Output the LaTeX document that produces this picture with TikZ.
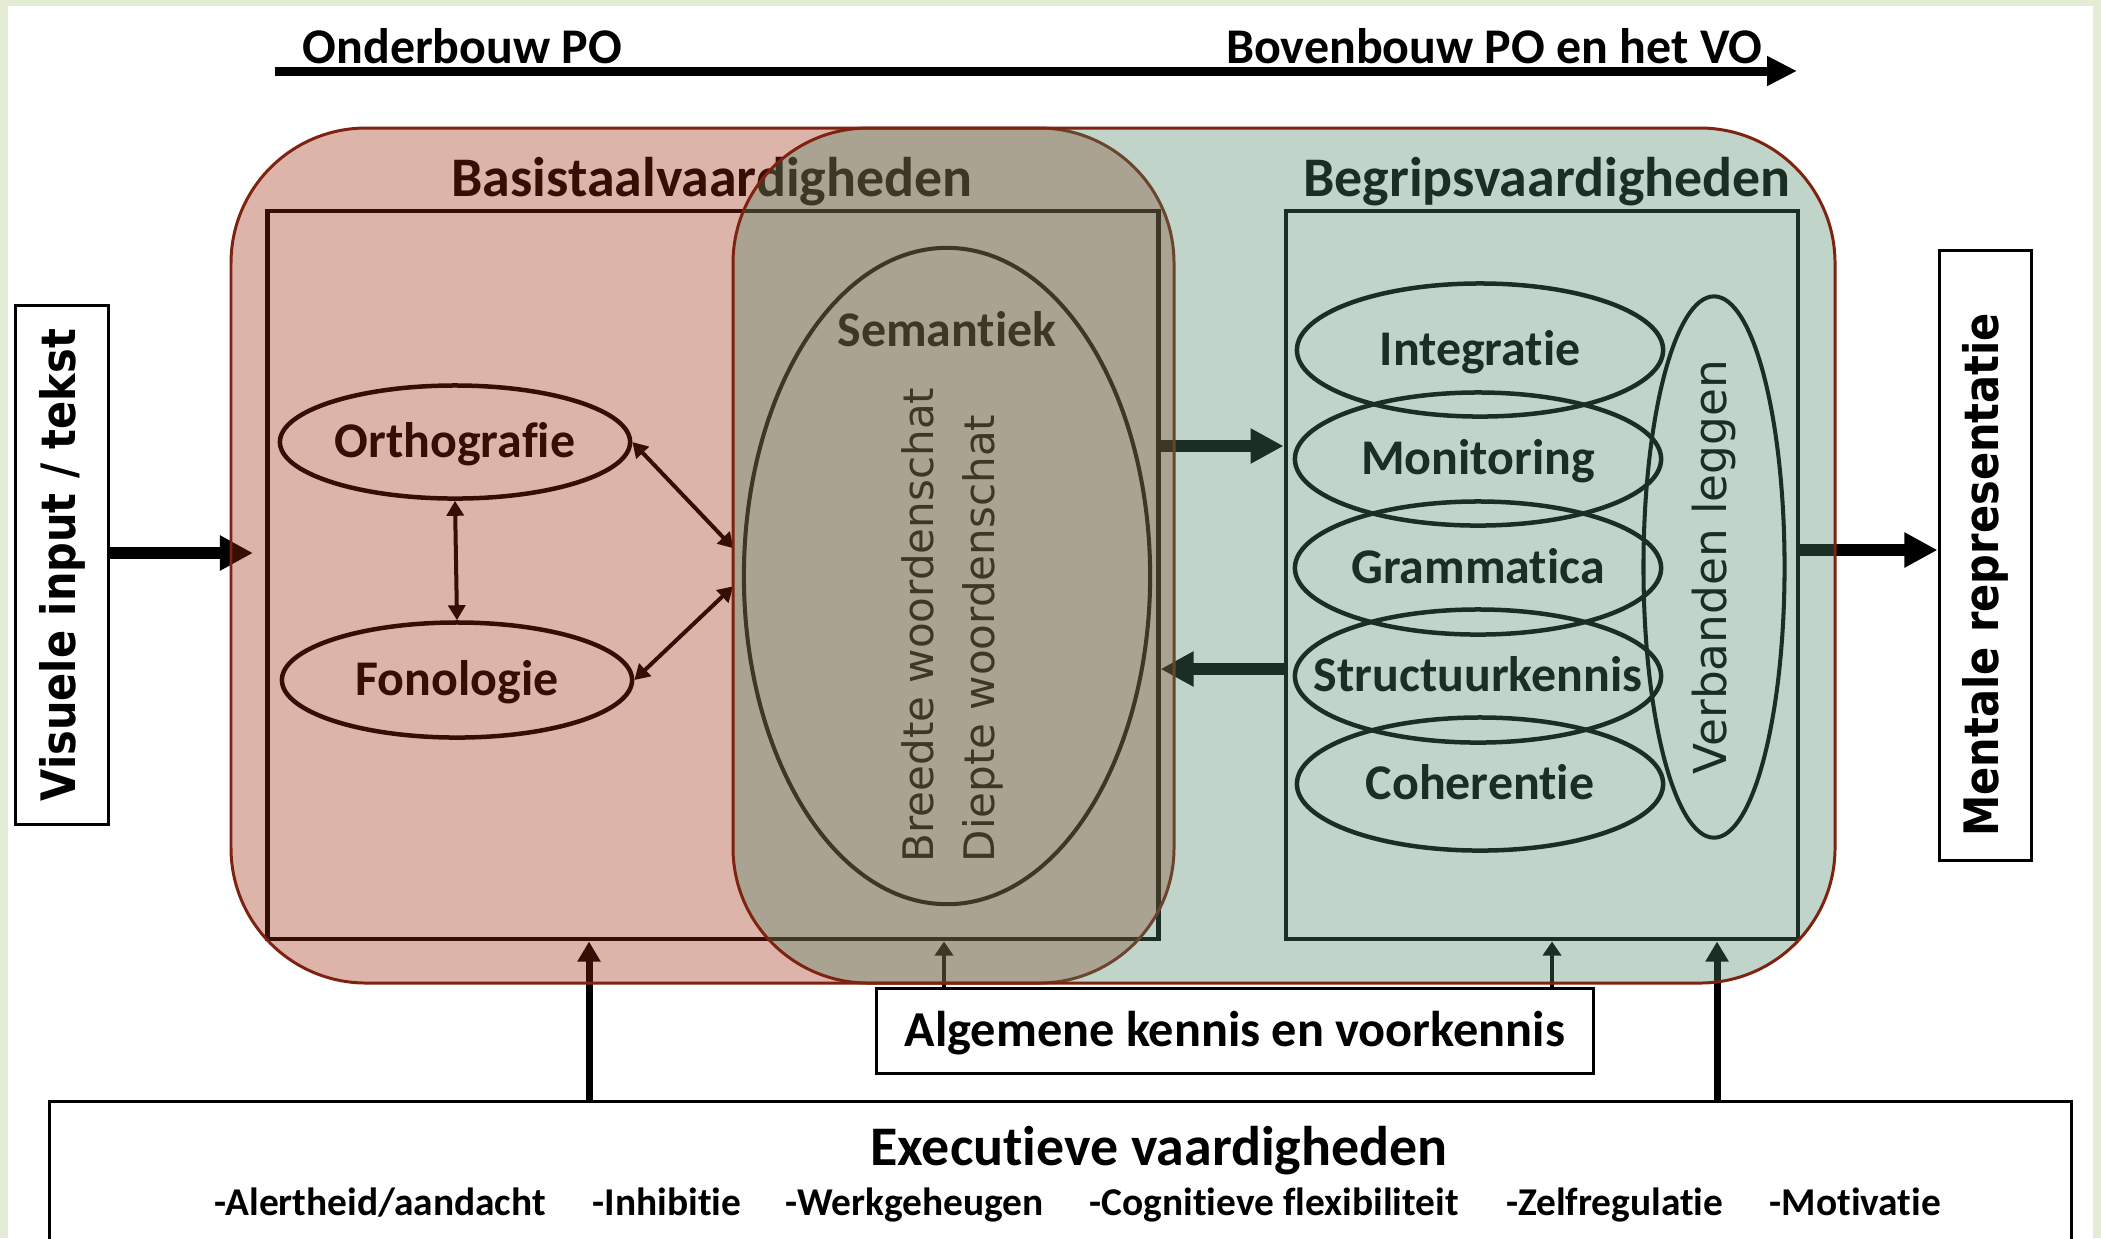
\documentclass[tikz,border=0pt]{standalone}
\usepackage{fontspec}
\setmainfont{Carlito}[Ligatures=NoCommon]
\newfontfamily\vfont{DejaVu Sans}
\usepackage{tikz}
\usetikzlibrary{shapes.geometric, arrows.meta, positioning, calc}
\definecolor{pinkfill}{RGB}{158,41,12}
\definecolor{greenfill}{RGB}{75,132,104}
\definecolor{rimred}{RGB}{125,35,15}
\definecolor{slidebg}{RGB}{229,236,214}
\tikzstyle{skill} = [ellipse, draw=black, line width=1.28pt, inner sep=0pt, font=\bfseries\fontsize{14.2}{16}\selectfont, text height=9pt, text depth=0pt]
\tikzstyle{skilltext} = [inner sep=0pt, font=\bfseries\fontsize{14.2}{16}\selectfont, text height=9pt, text depth=0pt]
\tikzstyle{frame} = [rectangle, draw=black, line width=1.28pt, inner sep=0pt]
\tikzstyle{box} = [rectangle, draw=black, line width=0.85pt, fill=white, inner sep=0pt]
\tikzstyle{title} = [font=\bfseries\fontsize{15.9}{18}\selectfont, anchor=base, inner sep=0pt]
\tikzstyle{phase} = [font=\bfseries\fontsize{14.2}{16}\selectfont, inner sep=0pt]
\tikzstyle{item} = [font=\bfseries\fontsize{11.2}{13}\selectfont, anchor=base west, inner sep=0pt]
\tikzstyle{vtext} = [font=\vfont\bfseries\fontsize{13.5}{16}\selectfont]
\tikzstyle{bigarrow} = [line width=0.12cm, -{Triangle[length=0.33cm,width=0.33cm]}]
\tikzstyle{thinarrow} = [line width=1.14pt, {Triangle[length=0.15cm,width=0.17cm]}-{Triangle[length=0.15cm,width=0.17cm]}]
\tikzstyle{uparrow} = [line width=0.07cm, -{Triangle[length=0.2cm,width=0.22cm]}]
\tikzstyle{knowarrow} = [line width=0.04cm, -{Triangle[length=0.14cm,width=0.18cm]}]
\tikzstyle{zone} = [draw=rimred, line width=0.85pt, fill opacity=0.35, rounded corners=1.35cm]

\begin{document}
\begin{tikzpicture}[x=0.01cm, y=-0.01cm]
\useasboundingbox (0,0) rectangle (2101,1238);
\fill[slidebg] (0,0) rectangle (2101,1238);
\fill[white] (8,6) rectangle (2093,1250);

\coordinate (tl-a) at (275,71);
\coordinate (tl-b) at (1797,71);
\draw[line width=0.09cm, -{Triangle[length=0.3cm,width=0.28cm]}] (tl-a) -- (tl-b);
\node[phase, anchor=base west] (onder) at (302,63) {Onderbouw PO};
\node[phase, anchor=base east] (boven) at (1763,63) {Bovenbouw PO en het VO};

\node[frame, minimum width=8.9cm, minimum height=7.28cm] (basis) at (713,575) {};
\node[frame, minimum width=5.12cm, minimum height=7.28cm] (begrip) at (1542,575) {};
\node[title] (basis-t) at (712,196) {Basistaalvaardigheden};
\node[title] (begrip-t) at (1547,196) {Begripsvaardigheden};

\node[skill, minimum width=3.5cm, minimum height=1.13cm] (ortho) at (455,442) {Orthografie};
\node[skill, minimum width=3.5cm, minimum height=1.15cm] (fono) at (457,680) {Fonologie};
\node[skill, minimum width=4.06cm, minimum height=6.56cm, line width=1.15pt] (sem) at (947,576) {};
\node[phase, anchor=base] (sem-t) at (947,346) {Semantiek};
\node[font=\vfont\fontsize{11.95}{17.4}\selectfont, rotate=90, anchor=west, align=left, inner sep=0pt] (woord) at (952,863) {Breedte woordenschat\\Diepte woordenschat};

\node[skill, minimum width=3.66cm, minimum height=1.33cm] (integ) at (1480,350) {Integratie};
\node[skill, minimum width=3.66cm, minimum height=1.33cm] (monit) at (1478,459) {Monitoring};
\node[skill, minimum width=3.66cm, minimum height=1.33cm] (gram) at (1478,568) {Grammatica};
\node[skill, minimum width=3.66cm, minimum height=1.33cm] (struc) at (1478,676) {};
\node[skilltext] (struc-t) at (struc.center) {Structuurkennis};
\node[skill, minimum width=3.66cm, minimum height=1.33cm] (coher) at (1480,784) {Coherentie};
\node[skill, minimum width=1.41cm, minimum height=5.41cm, line width=1.15pt] (verb) at (1714,567) {};
\node[font=\vfont\fontsize{12.9}{15}\selectfont, rotate=90, inner sep=0pt] (verb-t) at (verb.center) {Verbanden leggen};

\node[box, vtext, minimum width=0.92cm, minimum height=5.18cm] (vis) at (62,565) {\rotatebox{90}{\scalebox{0.875}[1]{Visuele input / tekst}}};
\node[box, vtext, anchor=south, minimum width=0.92cm, inner ysep=0.24cm, text height=5.62cm, text depth=0pt] (ment) at (1985,862) {\rotatebox{90}{\scalebox{0.875}[1]{Mentale representatie}}};

\coordinate (in-tip) at (253,553);
\coordinate (out-row) at (0,550);
\coordinate (fwd-row) at (0,446);
\coordinate (back-row) at (0,669);
\draw[bigarrow] (vis.east |- in-tip) -- (in-tip);
\draw[bigarrow] (begrip.east |- out-row) -- (ment.west |- out-row);
\draw[bigarrow] (basis.east |- fwd-row) -- (begrip.west |- fwd-row);
\draw[bigarrow] (begrip.west |- back-row) -- (basis.east |- back-row);

\draw[thinarrow] (ortho.south) -- (fono.north);
\draw[thinarrow, shorten >=0.12cm] (ortho.east) -- ([yshift=0.19cm]sem.west);
\draw[thinarrow, shorten <=0.12cm] ([yshift=-0.02cm]sem.west) -- (fono.east);

\node[box, minimum width=20.21cm, minimum height=1.5cm, anchor=north west] (exec) at (48,1100) {};
\node[title] (exec-t) at (1159,1165) {Executieve vaardigheden};
\node[item] (it-1) at (214,1215) {-Alertheid/aandacht};
\node[item] (it-2) at (592,1215) {-Inhibitie};
\node[item] (it-3) at (785,1215) {-Werkgeheugen};
\node[item] (it-4) at (1089,1215) {-Cognitieve flexibiliteit};
\node[item] (it-5) at (1506,1215) {-Zelfregulatie};
\node[item] (it-6) at (1769,1215) {-Motivatie};
\node[box, minimum width=7.16cm, minimum height=0.85cm, font=\bfseries\fontsize{14.3}{16}\selectfont, text height=9pt, text depth=0pt] (alg) at (1235,1031) {Algemene kennis en voorkennis};

\coordinate (col-a) at (589,0);
\coordinate (col-b) at (1717,0);
\coordinate (col-c) at (944,0);
\coordinate (col-d) at (1552,0);
\draw[uparrow] (exec.north -| col-a) -- (basis.south -| col-a);
\draw[uparrow] (exec.north -| col-b) -- (begrip.south -| col-b);
\draw[knowarrow] (alg.north -| col-c) -- (basis.south -| col-c);
\draw[knowarrow] (alg.north -| col-d) -- (begrip.south -| col-d);

\draw[zone, fill=pinkfill] (231,128) rectangle (1174,983);
\draw[zone, fill=greenfill] (733,128) rectangle (1835,983);
\end{tikzpicture}
\end{document}
